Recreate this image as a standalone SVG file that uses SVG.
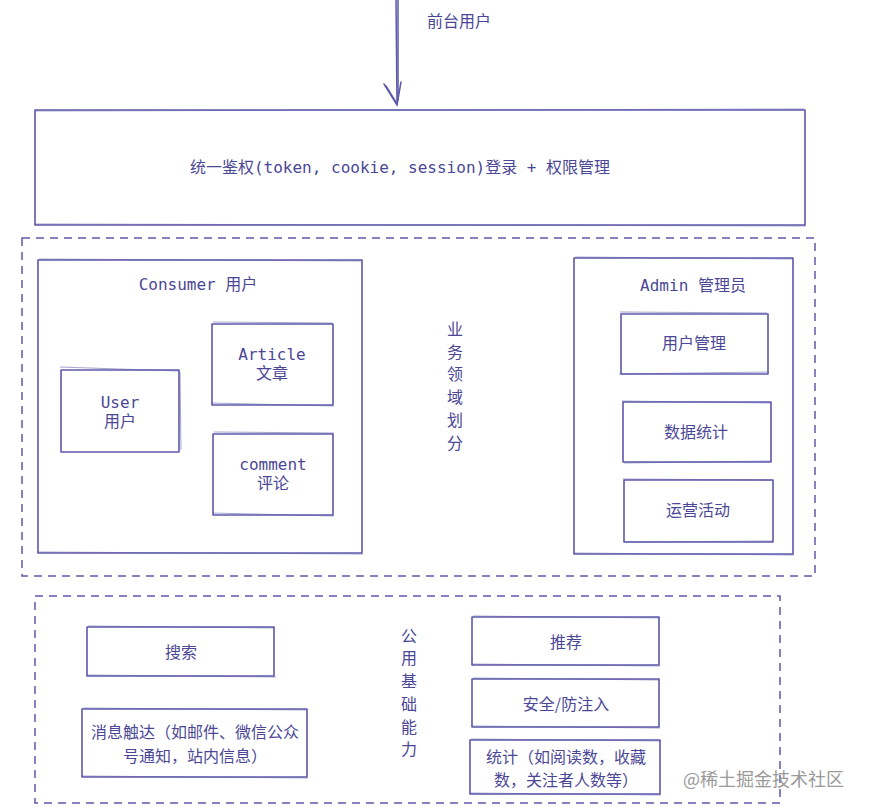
<svg xmlns="http://www.w3.org/2000/svg" width="870" height="811" viewBox="0 0 870 811">
<style>
.box{fill:none;stroke:#5d59ab;stroke-width:1.6;stroke-linejoin:round}
.sk{fill:none;stroke:#5d59ab;stroke-width:0.8;opacity:0.7}
.dash{fill:none;stroke:#5d59ab;stroke-width:1.5;stroke-dasharray:8 6}
.t{font-family:"DejaVu Sans Mono","Noto Sans CJK SC",monospace;font-size:16px;fill:#4b4796;text-anchor:middle;dominant-baseline:central}
.c{font-family:"Noto Sans CJK SC",sans-serif;font-size:16px;fill:#4b4796;text-anchor:middle;dominant-baseline:central}
.line{fill:none;stroke:#5d59ab;stroke-width:1.5;stroke-linecap:round}
</style>
<rect width="870" height="811" fill="#ffffff"/>
<g id="connectors">
<path class="line" d="M396 0 L397 104"/>
<path class="line" d="M398 0 L398 100"/>
<path class="line" d="M384 84 L397 105 L401 82"/>
<path class="line" d="M386 86 L397 104"/>
</g>
<text class="c" x="459" y="20">前台用户</text>
<g id="auth">
<rect class="box" x="35" y="110" width="770" height="115"/>
<path class="sk" d="M36 111 L804 109 M34 224 L806 226"/>
<text class="t" x="400" y="167">统一鉴权(token, cookie, session)登录 + 权限管理</text>
</g>
<g id="business">
<rect class="dash" x="22" y="238" width="793" height="338"/>
<text class="c" x="455" y="328">业</text><text class="c" x="455" y="351">务</text><text class="c" x="455" y="373">领</text><text class="c" x="455" y="396">域</text><text class="c" x="455" y="419">划</text><text class="c" x="455" y="442">分</text>
</g>
<g id="consumer">
<rect class="box" x="38" y="260" width="324" height="293"/>
<path class="sk" d="M39 259 L361 261 M37 552 L363 554"/>
<text class="t" x="198" y="284">Consumer 用户</text>
</g>
<g id="user">
<rect class="box" x="61" y="370" width="118" height="82"/>
<path class="sk" d="M60 367 L178 371 M180 372 L181 450"/>
<text class="t" x="120" y="402">User</text>
<text class="t" x="120" y="421">用户</text>
</g>
<g id="article">
<rect class="box" x="212" y="324" width="121" height="81"/>
<path class="sk" d="M213 322 L332 323 M211 403 L334 406"/>
<text class="t" x="272" y="354">Article</text>
<text class="t" x="272" y="373">文章</text>
</g>
<g id="comment">
<rect class="box" x="213" y="434" width="120" height="81"/>
<path class="sk" d="M214 432 L334 433 M212 513 L334 516"/>
<text class="t" x="273" y="464">comment</text>
<text class="t" x="273" y="483">评论</text>
</g>
<g id="admin">
<rect class="box" x="574" y="258" width="219" height="296"/>
<path class="sk" d="M575 257 L792 259 M573 553 L794 555"/>
<text class="t" x="693" y="285">Admin 管理员</text>
</g>
<g id="user-mgmt">
<rect class="box" x="621" y="314" width="147" height="60"/>
<path class="sk" d="M620 312 L767 313 M619 374 L769 372"/>
<text class="c" x="694" y="342">用户管理</text>
</g>
<g id="data-stats">
<rect class="box" x="623" y="402" width="148" height="60"/>
<path class="sk" d="M622 401 L770 403 M624 463 L772 461"/>
<text class="c" x="696" y="431">数据统计</text>
</g>
<g id="operations">
<rect class="box" x="624" y="480" width="149" height="62"/>
<path class="sk" d="M623 479 L772 480 M625 542 L774 541"/>
<text class="c" x="698" y="509">运营活动</text>
</g>
<g id="common">
<rect class="dash" x="35" y="596" width="745" height="207"/>
<text class="c" x="409" y="635">公</text><text class="c" x="409" y="657">用</text><text class="c" x="409" y="680">基</text><text class="c" x="409" y="703">础</text><text class="c" x="409" y="726">能</text><text class="c" x="409" y="748">力</text>
</g>
<g id="search">
<rect class="box" x="87" y="627" width="187" height="49"/>
<path class="sk" d="M88 626 L275 628 M86 675 L276 677"/>
<text class="c" x="181" y="651">搜索</text>
</g>
<g id="message">
<rect class="box" x="82" y="709" width="225" height="68"/>
<path class="sk" d="M83 708 L306 710 M81 776 L308 778"/>
<text class="c" x="195" y="731">消息触达（如邮件、微信公众</text>
<text class="c" x="195" y="755">号通知，站内信息）</text>
</g>
<g id="recommend">
<rect class="box" x="472" y="617" width="187" height="48"/>
<path class="sk" d="M473 616 L660 618 M471 664 L660 666"/>
<text class="c" x="566" y="641">推荐</text>
</g>
<g id="security">
<rect class="box" x="472" y="679" width="187" height="48"/>
<path class="sk" d="M473 678 L660 680 M471 726 L660 728"/>
<text class="c" x="566" y="703">安全/防注入</text>
</g>
<g id="statistics">
<rect class="box" x="470" y="740" width="190" height="54"/>
<path class="sk" d="M471 739 L661 741 M469 793 L661 795"/>
<text class="c" x="566" y="756">统计（如阅读数，收藏</text>
<text class="c" x="566" y="779">数，关注者人数等）</text>
</g>
<text x="683" y="778" style="font-family:'Noto Sans CJK SC',sans-serif;font-size:18px;fill:#9a9a9a;dominant-baseline:central">@稀土掘金技术社区</text>
</svg>
